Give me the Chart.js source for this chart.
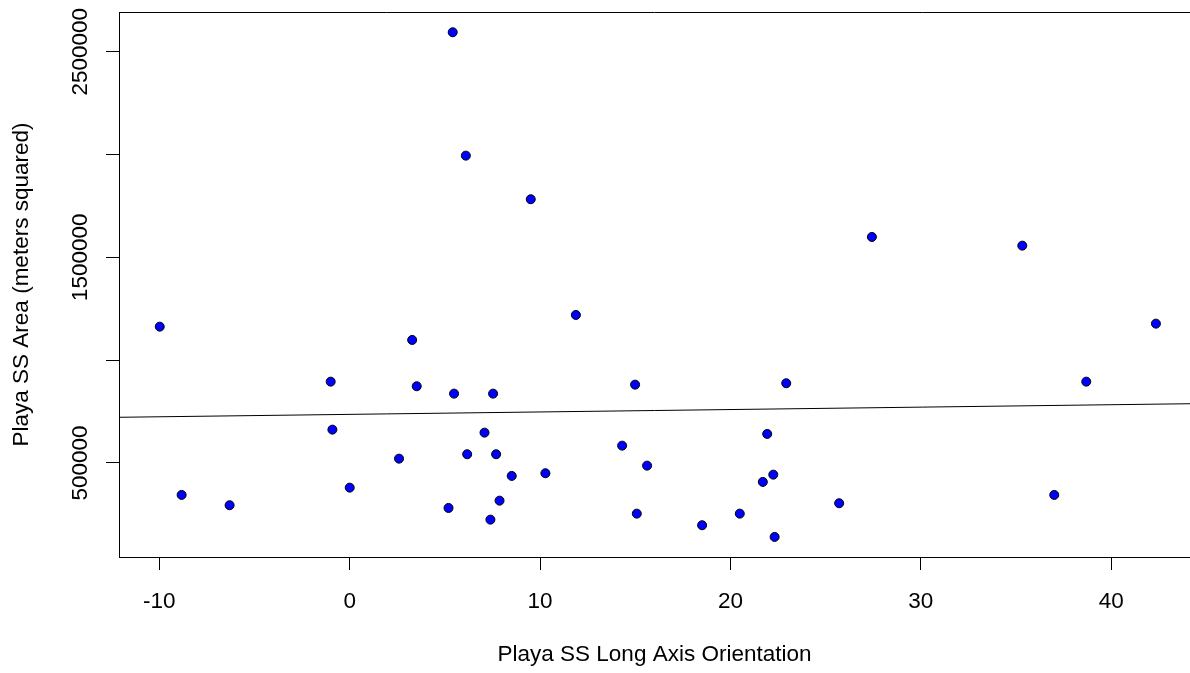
<!DOCTYPE html>
<html>
<head>
<meta charset="utf-8">
<script src="https://cdn.jsdelivr.net/npm/chart.js@4"></script>
<style>
  html, body { margin: 0; padding: 0; background: #fff; }
  #wrap { width: 1190px; height: 673px; }
</style>
</head>
<body>
<div id="wrap"><canvas id="chart"></canvas></div>
<script>
// Points
const orientation = [5.41, 6.10, -9.98, 3.28, -1.00, 3.52, 5.48, 7.53, -0.91, 7.08,
  2.59, 6.17, 7.69, 0.00, -8.83, -6.31, 5.19, 7.39, 7.87, 11.88,
  14.99, 22.93, 14.31, 21.93, 8.51, 10.28, 15.62, 22.25, 21.70, 15.08,
  18.51, 20.49, 22.32, 25.71, 9.51, 27.43, 35.33, 42.35, 38.69, 37.01];
const area = [2594800, 1994700, 1162900, 1098200, 895400, 873000, 837100, 837100, 662000, 647400,
  520900, 542300, 542300, 379900, 344400, 294300, 281100, 224200, 316600, 1219800,
  880800, 887600, 584100, 641100, 436800, 449900, 486900, 443100, 407600, 253400,
  197000, 253400, 140100, 304000, 1782600, 1599200, 1556900, 1177500, 895400, 344400];

// fitted line end points (edges of the plot)
const fitX = [-12.12, 44.14];
const fitY = [722000, 788000];

const xRange = [-12.12, 44.14];
const yRange = [42500, 2693300];
const xTicks = [-10, 0, 10, 20, 30, 40];
const yTicks = [500000, 1000000, 1500000, 2000000, 2500000];
// R drops the labels that would overlap
const yTickLabels = [500000, 1500000, 2500000];

const font = { family: '"Liberation Sans", Arial, sans-serif', size: 22.5 };

const boxTop = {
  id: 'boxTop',
  afterDraw(chart) {
    const { ctx, chartArea } = chart;
    ctx.save();
    ctx.strokeStyle = '#000';
    ctx.lineWidth = 1;
    ctx.beginPath();
    ctx.moveTo(chartArea.left, Math.round(chartArea.top) + 0.5);
    ctx.lineTo(chartArea.right, Math.round(chartArea.top) + 0.5);
    ctx.stroke();
    ctx.restore();
  }
};

new Chart(document.getElementById('chart'), {
  type: 'scatter',
  data: {
    datasets: [{
      data: orientation.map((x, i) => ({ x, y: area[i] })),
      backgroundColor: '#0000ff',
      borderColor: '#000',
      borderWidth: 1,
      pointRadius: 4.5,
      order: 1
    }, {
      type: 'line',
      data: fitX.map((x, i) => ({ x, y: fitY[i] })),
      borderColor: '#000',
      borderWidth: 1,
      pointRadius: 0,
      fill: false,
      order: 2
    }]
  },
  options: {
    responsive: true,
    maintainAspectRatio: false,
    animation: false,
    layout: { autoPadding: false, padding: { top: 12, left: 0, right: 0, bottom: 0 } },
    plugins: { legend: { display: false }, tooltip: { enabled: false } },
    scales: {
      x: {
        type: 'linear',
        min: xRange[0],
        max: xRange[1],
        afterBuildTicks: (s) => { s.ticks = xTicks.map(v => ({ value: v })); },
        afterFit: (s) => { s.height = 116; },
        border: { display: true, color: '#000', width: 1 },
        grid: { drawOnChartArea: false, drawTicks: true, tickLength: 13, color: '#000' },
        ticks: {
          font, color: '#000',
          padding: 18,
          maxRotation: 0
        },
        title: {
          display: true,
          text: 'Playa SS Long Axis Orientation',
          font, color: '#000',
          padding: { top: 0, bottom: 5 }
        }
      },
      y: {
        type: 'linear',
        min: yRange[0],
        max: yRange[1],
        afterBuildTicks: (s) => { s.ticks = yTicks.map(v => ({ value: v })); },
        afterFit: (s) => { s.width = 119; },
        border: { display: true, color: '#000', width: 1 },
        grid: { drawOnChartArea: false, drawTicks: true, tickLength: 13, color: '#000' },
        ticks: {
          font, color: '#000',
          minRotation: 90,
          maxRotation: 90,
          crossAlign: 'center',
          padding: -19,
          callback: (v) => yTickLabels.includes(v) ? String(v) : ''
        },
        title: {
          display: true,
          text: 'Playa SS Area (meters squared)',
          font, color: '#000',
          padding: { top: 8, bottom: 0 }
        }
      }
    }
  },
  plugins: [boxTop]
});
</script>
</body>
</html>
